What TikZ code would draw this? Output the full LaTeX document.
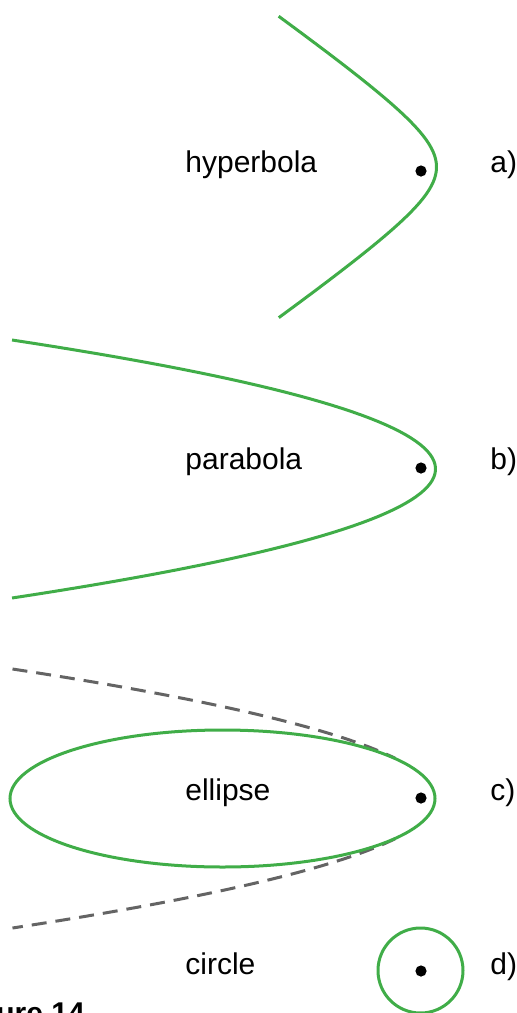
\documentclass[tikz,border=0pt]{standalone}
\usepackage{fontspec}
\setmainfont{Liberation Sans}
\definecolor{conicgreen}{RGB}{64,173,72}
\definecolor{axisgray}{RGB}{100,100,100}
\begin{document}
\begin{tikzpicture}[x=0.5pt,y=-0.5pt,
  conic/.style={draw=conicgreen,line width=1.5pt},
  guide/.style={draw=axisgray,line width=1.5pt,dash pattern=on 7.5pt off 4.5pt},
  focus/.style={circle,fill=black,inner sep=0pt,minimum size=5.6pt},
  lbl/.style={anchor=base west,inner sep=0pt,font=\fontsize{15}{18}\selectfont}]
\useasboundingbox (0,0) rectangle (517,1013);
% a) hyperbola
\draw[conic] plot[domain=-1.87:1.87,samples=80,variable=\t]
  ({504.5-68*(exp(\t)+exp(-\t))/2},{167+47.6*(exp(\t)-exp(-\t))/2});
\node[focus] (fa) at (421,171) {};
\node[lbl] (hyp) at (185,172) {hyperbola};
\node[lbl] (a) at (490,172) {a)};
% b) parabola
\draw[conic] plot[domain=-129:129,samples=80,variable=\s]
  ({435.5-(\s/10)*(\s/10)/0.393},{469+\s});
\node[focus] (fb) at (421,468) {};
\node[lbl] (par) at (185,469) {parabola};
\node[lbl] (b) at (490,469) {b)};
% c) ellipse
\draw[guide] plot[domain=-129.5:-40,samples=40,variable=\s]
  ({436-(\s/10)*(\s/10)/0.396},{798.5+\s});
\draw[guide] plot[domain=40:129.5,samples=40,variable=\s]
  ({436-(\s/10)*(\s/10)/0.396},{798.5+\s});
\draw[conic] (222.5,798.5) ellipse [x radius=212.5,y radius=68.5];
\node[focus] (fc) at (421,798) {};
\node[lbl] (ell) at (185,800) {ellipse};
\node[lbl] (c) at (490,800) {c)};
% d) circle
\draw[conic] (420.5,970.5) circle [radius=42.5];
\node[focus] (fd) at (421,971) {};
\node[lbl] (cir) at (185,974) {circle};
\node[lbl] (d) at (490,974) {d)};
\node[lbl,font=\fontsize{15}{18}\selectfont\bfseries] (fig) at (-4,1023.5) {ure 14};
\end{tikzpicture}
\end{document}
